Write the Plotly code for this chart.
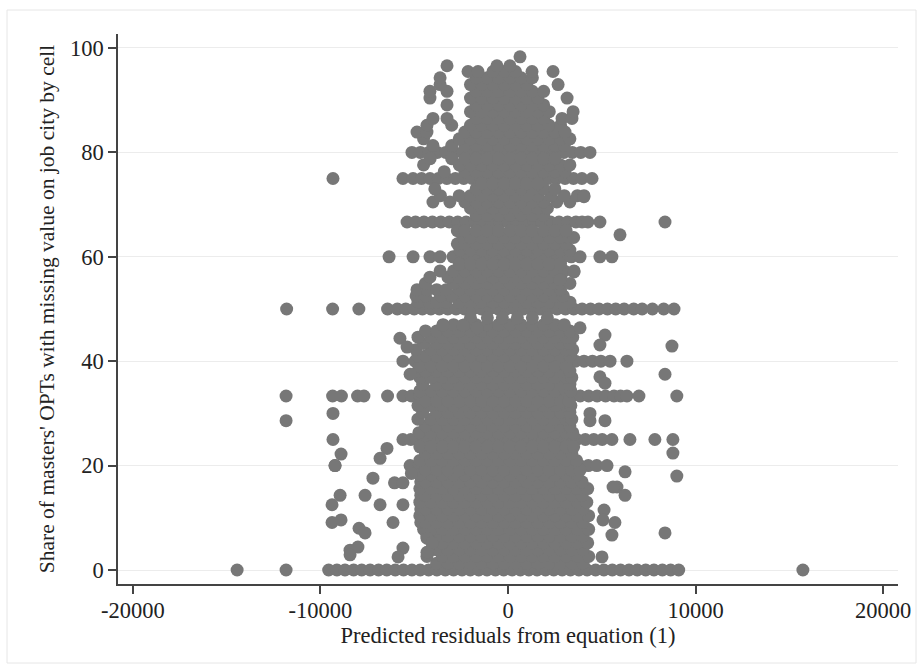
import plotly.graph_objects as go

# ---- data ----
# horizontal streaks at common shares
zero_share_x = [-14440, -11830, -9560, -9120, -8690, -8230, -7800, -7350, -6900, -6460, -6010, -5570,
                -5120, -4680, -4230, -3790, -3340, -2900, -2450, -2010, -1560, -1120, -670, -230, 220,
                660, 1110, 1550, 2000, 2440, 2890, 3330, 3780, 4220, 4670, 5110, 5560, 6000, 6450,
                6890, 7340, 7780, 8230, 8670, 9100, 15720]
half_share_x = [-11800, -9350, -7950, -6420, -5900, -5450, -5000, -4560, -4110, -3660, -3210, -2770,
                -2320, -1870, -1420, -980, -530, -80, 370, 820, 1260, 1710, 2160, 2610, 3060, 3500,
                3950, 4400, 4850, 5300, 5740, 6190, 6700, 7150, 7700, 8300, 8850]
third_share_x = [-11830, -9350, -8880, -8020, -7680, -6420, -5600, -5150, -4700, -4250, -3800, -3350,
                 -2900, -2450, -2000, -1550, -1100, -650, -200, 250, 700, 1150, 1600, 2050, 2500, 2950,
                 3400, 3850, 4300, 4750, 5200, 5650, 6000, 6340, 6980, 9000]
quarter_share_x = [-9330, -5600, -5180, -4880, -4430, -3980, -3530, -3080, -2630, -2180, -1730, -1280,
                   -830, -380, 70, 520, 970, 1420, 1870, 2320, 2770, 3220, 3670, 4120, 4570, 5020,
                   5540, 6500, 7830, 8790]
fifth_share_x = [-9220, -5220, -4720, -4270, -3820, -3370, -2920, -2470, -2020, -1570, -1120, -670,
                 -220, 230, 680, 1130, 1580, 2030, 2480, 2930, 3380, 3830, 4280, 4730, 5280]
two_fifths_x = [-5600, -4950, -4500, -4050, -3600, -3150, -2700, -2250, -1800, -1350, -900, -450, 0,
                450, 900, 1350, 1800, 2250, 2700, 3150, 3600, 4050, 4500, 4950, 5440, 6340]
three_fifths_x = [-6340, -5060, -4160, -3620, -2930, -2480, -2030, -1580, -1130, -680, -230, 220, 670,
                  1120, 1570, 2020, 2470, 2920, 3370, 3840, 4900, 5540]
two_thirds_x = [-5380, -4930, -4480, -4030, -3580, -3130, -2680, -2230, -1780, -1330, -880, -430, 20,
                470, 920, 1370, 1820, 2270, 2720, 3170, 3620, 3950, 4260, 4900, 8370]
three_quarters_x = [-9330, -5600, -5060, -4610, -4160, -3710, -3260, -2810, -2360, -1910, -1460, -1010,
                    -560, -110, 340, 790, 1240, 1690, 2140, 2590, 3040, 3490, 3940, 4480]
four_fifths_x = [-5120, -4670, -4220, -3770, -3320, -2870, -2420, -1970, -1520, -1070, -620, -170, 280,
                 730, 1180, 1630, 2080, 2530, 2980, 3430, 3880, 4370]
streak_shares = [0, 50, 100 / 3, 25, 20, 40, 60, 200 / 3, 75, 80]

# dense core, row by row: (share, residuals)
core_rows = [
    (1.3, [-3800, -3200, -2600, -2000, -1400, -800, -200, 400, 1000, 1600, 2200, 2800, 3400, 4000]),
    (2.6, [-4320, -3500, -2900, -2300, -1700, -1100, -500, 100, 700, 1300, 1900, 2500, 3100, 3700, 4300]),
    (3.9, [-4050, -3800, -3200, -2600, -2000, -1400, -800, -200, 400, 1000, 1600, 2200, 2800, 3400, 4000]),
    (5.2, [-4050, -3500, -2900, -2300, -1700, -1100, -500, 100, 700, 1300, 1900, 2500, 3100, 3700, 4250]),
    (6.5, [-4320, -3800, -3200, -2600, -2000, -1400, -800, -200, 400, 1000, 1600, 2200, 2800, 3400, 4000]),
    (7.8, [-4500, -4100, -3500, -2900, -2300, -1700, -1100, -500, 100, 700, 1300, 1900, 2500, 3100, 3700, 4300]),
    (9.1, [-4650, -4400, -3800, -3200, -2600, -2000, -1400, -800, -200, 400, 1000, 1600, 2200, 2800, 3400, 4000]),
    (10.4, [-4700, -4100, -3500, -2900, -2300, -1700, -1100, -500, 100, 700, 1300, 1900, 2500, 3100, 3700, 4300]),
    (11.7, [-4650, -4400, -3800, -3200, -2600, -2000, -1400, -800, -200, 400, 1000, 1600, 2200, 2800, 3400, 4000]),
    (13.0, [-4700, -4100, -3500, -2900, -2300, -1700, -1100, -500, 100, 700, 1300, 1900, 2500, 3100, 3700, 4200]),
    (14.3, [-4650, -4400, -3800, -3200, -2600, -2000, -1400, -800, -200, 400, 1000, 1600, 2200, 2800, 3400, 3950]),
    (15.6, [-4700, -4100, -3500, -2900, -2300, -1700, -1100, -500, 100, 700, 1300, 1900, 2500, 3100, 3700, 4250]),
    (16.9, [-4650, -4400, -3800, -3200, -2600, -2000, -1400, -800, -200, 400, 1000, 1600, 2200, 2800, 3400, 3950]),
    (18.2, [-4700, -4100, -3500, -2900, -2300, -1700, -1100, -500, 100, 700, 1300, 1900, 2500, 3100, 3700]),
    (19.2, [-4400, -3800, -3200, -2600, -2000, -1400, -800, -200, 400, 1000, 1600, 2200, 2800, 3400, 3850]),
    (21.0, [-4700, -4100, -3500, -2900, -2300, -1700, -1100, -500, 100, 700, 1300, 1900, 2500, 3100, 3650]),
    (22.3, [-4400, -3800, -3200, -2600, -2000, -1400, -800, -200, 400, 1000, 1600, 2200, 2800, 3400]),
    (23.6, [-4700, -4100, -3500, -2900, -2300, -1700, -1100, -500, 100, 700, 1300, 1900, 2500, 3100, 3500]),
    (26.3, [-4750, -4100, -3500, -2900, -2300, -1700, -1100, -500, 100, 700, 1300, 1900, 2500, 3100, 3450]),
    (27.6, [-4400, -3800, -3200, -2600, -2000, -1400, -800, -200, 400, 1000, 1600, 2200, 2800, 3300]),
    (28.9, [-4800, -4100, -3500, -2900, -2300, -1700, -1100, -500, 100, 700, 1300, 1900, 2500, 3100, 3400]),
    (30.2, [-4550, -3800, -3200, -2600, -2000, -1400, -800, -200, 400, 1000, 1600, 2200, 2800, 3300]),
    (31.5, [-4800, -4100, -3500, -2900, -2300, -1700, -1100, -500, 100, 700, 1300, 1900, 2500, 3100, 3350]),
    (32.4, [-4400, -3800, -3200, -2600, -2000, -1400, -800, -200, 400, 1000, 1600, 2200, 2800, 3250]),
    (34.3, [-4700, -4100, -3500, -2900, -2300, -1700, -1100, -500, 100, 700, 1300, 1900, 2500, 3100, 3350]),
    (35.6, [-4550, -3800, -3200, -2600, -2000, -1400, -800, -200, 400, 1000, 1600, 2200, 2800, 3300]),
    (36.9, [-4700, -4100, -3500, -2900, -2300, -1700, -1100, -500, 100, 700, 1300, 1900, 2500, 3100, 3400]),
    (38.1, [-4800, -4400, -3800, -3200, -2600, -2000, -1400, -800, -200, 400, 1000, 1600, 2200, 2800, 3300]),
    (39.1, [-4700, -4100, -3500, -2900, -2300, -1700, -1100, -500, 100, 700, 1300, 1900, 2500, 3100]),
    (41.0, [-4800, -4400, -3800, -3200, -2600, -2000, -1400, -800, -200, 400, 1000, 1600, 2200, 2800, 3300]),
    (42.2, [-4900, -4100, -3500, -2900, -2300, -1700, -1100, -500, 100, 700, 1300, 1900, 2500, 3100, 3450]),
    (43.4, [-4500, -3800, -3200, -2600, -2000, -1400, -800, -200, 400, 1000, 1600, 2200, 2800, 3300]),
    (44.6, [-4800, -4100, -3500, -2900, -2300, -1700, -1100, -500, 100, 700, 1300, 1900, 2500, 3100, 3450]),
    (45.8, [-4400, -3800, -3200, -2600, -2000, -1400, -800, -200, 400, 1000, 1600, 2200, 2800, 3300]),
    (47.0, [-3460, -2900, -2300, -1700, -1100, -500, 100, 700, 1300, 1900, 2500, 3000]),
    (48.3, [-2000, -1100, -300, 500, 1300, 2100]),
    (51.3, [-4800, -4200, -3800, -3300, -2600, -2000, -1400, -800, -200, 400, 1000, 1600, 2200, 2800, 3300]),
    (52.5, [-4900, -4400, -3600, -3000, -2300, -1700, -1100, -500, 100, 700, 1300, 1900, 2500, 2950]),
    (53.7, [-4850, -4300, -3800, -3300, -2600, -2000, -1400, -800, -200, 400, 1000, 1600, 2200, 2800]),
    (54.9, [-4400, -2900, -2300, -1700, -1100, -500, 100, 700, 1300, 1900, 2500, 2770, 3300]),
    (56.1, [-4160, -3200, -2600, -2000, -1400, -800, -200, 400, 1000, 1600, 2200, 2800]),
    (57.3, [-3620, -2900, -2300, -1700, -1100, -500, 100, 700, 1300, 1900, 2500, 3000, 3520]),
    (58.6, [-2600, -2000, -1400, -800, -200, 400, 1000, 1600, 2200, 2800]),
    (61.3, [-2560, -2000, -1400, -800, -200, 400, 1000, 1600, 2200, 2800, 3300]),
    (62.5, [-2700, -2300, -1700, -1100, -500, 100, 700, 1300, 1900, 2500, 3100]),
    (63.7, [-2400, -2000, -1400, -800, -200, 400, 1000, 1600, 2200, 2800, 3250, 3500]),
    (65.0, [-2700, -2300, -1700, -1100, -500, 100, 700, 1300, 1900, 2500, 3100]),
    (68.0, [-1700, -1100, -500, 100, 700, 1300, 1900]),
    (69.3, [-2000, -1400, -800, -200, 400, 1000, 1600, 2100]),
    (70.5, [-4000, -3100, -2300, -1700, -1100, -500, 100, 700, 1300, 1900, 2600, 3300]),
    (71.7, [-3600, -2600, -2000, -1400, -800, -200, 400, 1000, 1600, 2300, 3000, 3700, 4050]),
    (73.0, [-3900, -1700, -1100, -500, 100, 700, 1300, 1900, 2500]),
    (74.0, [-1400, -800, -200, 400, 1000, 1600]),
    (76.3, [-3400, -2300, -1700, -1100, -500, 100, 700, 1300, 1900, 2500, 3040]),
    (77.6, [-4500, -2600, -2000, -1400, -800, -200, 400, 1000, 1600, 2200, 2800, 3300]),
    (78.8, [-4150, -3000, -2300, -1700, -1100, -500, 100, 700, 1300, 1900, 2500]),
    (81.3, [-4000, -3000, -2300, -1700, -1100, -500, 100, 700, 1300, 1900, 2500, 3000]),
    (82.6, [-4500, -2600, -2000, -1400, -800, -200, 400, 1000, 1600, 2200, 2800, 3300]),
    (83.9, [-4850, -4320, -2300, -1700, -1100, -500, 100, 700, 1300, 1900, 2500, 3040]),
    (85.2, [-4320, -3000, -2000, -1400, -800, -200, 400, 1000, 1600, 2200, 2800]),
    (86.5, [-4000, -3250, -1700, -1100, -500, 100, 700, 1300, 1900, 2880, 3410]),
    (87.8, [-2000, -1400, -800, -200, 400, 1000, 1600, 2200, 3470]),
    (89.1, [-3250, -1700, -1100, -500, 100, 700, 1300, 1900]),
    (90.4, [-4160, -2000, -1400, -800, -200, 400, 1000, 1600, 3150]),
    (91.7, [-4160, -3250, -1700, -1100, -500, 100, 700, 1300, 1900]),
    (93.0, [-3620, -2000, -1400, -800, -200, 400, 1000, 2670]),
    (94.3, [-3620, -1700, -1100, -500, 100, 700, 1300]),
    (95.5, [-2130, -1600, -800, -200, 400, 1280, 2400]),
    (96.6, [-3250, -590, 100]),
    (98.3, [640]),
]

# scattered individual points
outlier_x = [-11830, -9330, -8900, -9220, -6450, -6820, -7200, -6050, -5600, -5150, -8950, -9380,
             -7620, -6820, -5600, -9380, -8900, -7940, -7620, -6130, -8420, -8000, -8420, -5600,
             -5860, -4320, -4050, -4320, -5760, -5380, -5220, -3460, -2400, -1650,
             3840, 5170, 4900, 8740, 4900, 5170, 8370, 4370, 5170, 4370, 8790, 6240, 9000, 5810,
             6240, 5600, 5120, 5700, 5060, 5540, 8370, 5010, 4050, 3520, 2770, 5970]
outlier_y = [28.6, 30.0, 22.2, 20.0, 23.3, 21.4, 17.6, 16.7, 16.7, 18.5, 14.3, 12.5,
             14.3, 12.5, 12.5, 9.1, 9.6, 8.0, 7.1, 9.1, 3.8, 4.4, 2.9, 4.2,
             2.5, 6.1, 5.2, 3.4, 44.4, 42.7, 37.5, 46.9, 46.9, 46.4,
             46.4, 45.0, 43.1, 42.9, 37.0, 35.8, 37.5, 30.0, 28.6, 28.6, 22.4, 18.8, 18.0, 15.9,
             14.3, 15.9, 11.5, 9.1, 9.6, 6.7, 7.1, 2.5, 71.5, 57.1, 55.6, 64.2]

# ---- assemble ----
xs, ys = [], []
for share, row in zip(streak_shares, [zero_share_x, half_share_x, third_share_x, quarter_share_x,
                                      fifth_share_x, two_fifths_x, three_fifths_x, two_thirds_x,
                                      three_quarters_x, four_fifths_x]):
    xs += row
    ys += [share] * len(row)
for share, row in core_rows:
    xs += row
    ys += [share] * len(row)
xs += outlier_x
ys += outlier_y

FONT = "Liberation Serif, Times New Roman, DejaVu Serif, serif"
fig = go.Figure(go.Scatter(x=xs, y=ys, mode="markers",
                           marker=dict(size=13, color="#777777", line=dict(width=0)),
                           hoverinfo="skip", showlegend=False))

W, H = 917, 669
L, R, T, B = 118, 19, 34, 85
pw, ph = W - L - R, H - T - B


def px_x(v):
    return (v - L) / pw


def px_y(v):
    return (H - B - v) / ph


fig.update_layout(
    width=W, height=H,
    margin=dict(l=L, r=R, t=T, b=B, autoexpand=False),
    paper_bgcolor="white", plot_bgcolor="white",
    font=dict(family=FONT, size=22.5, color="#222222"),
    xaxis=dict(range=[-20790, 20790], tickvals=[-20000, -10000, 0, 10000, 20000],
               ticktext=["-20000", "-10000", "0", "10000", "20000"],
               ticks="outside", ticklen=8, tickwidth=1.5, tickcolor="#444444",
               showline=True, linecolor="#444444", linewidth=1.5, mirror=False,
               showgrid=False, zeroline=False, ticklabelstandoff=-3,
               title=dict(text="Predicted residuals from equation (1)", font=dict(size=22.5), standoff=2),
               tickfont=dict(size=22.5)),
    yaxis=dict(range=[-2.68, 102.68], tickvals=[0, 20, 40, 60, 80, 100],
               ticks="outside", ticklen=8, tickwidth=1.5, tickcolor="#444444",
               showline=True, linecolor="#444444", linewidth=1.5,
               showgrid=True, gridcolor="#ececec", gridwidth=1, zeroline=False,
               title=dict(text="Share of masters' OPTs with missing value on job city by cell",
                          font=dict(size=21.5), standoff=9),
               tickfont=dict(size=22.5)),
    shapes=[dict(type="rect", xref="paper", yref="paper",
                 x0=px_x(7), x1=px_x(916), y0=px_y(663), y1=px_y(10),
                 line=dict(color="#e6e6e6", width=1), layer="below")],
)

fig.write_html("out.html")
